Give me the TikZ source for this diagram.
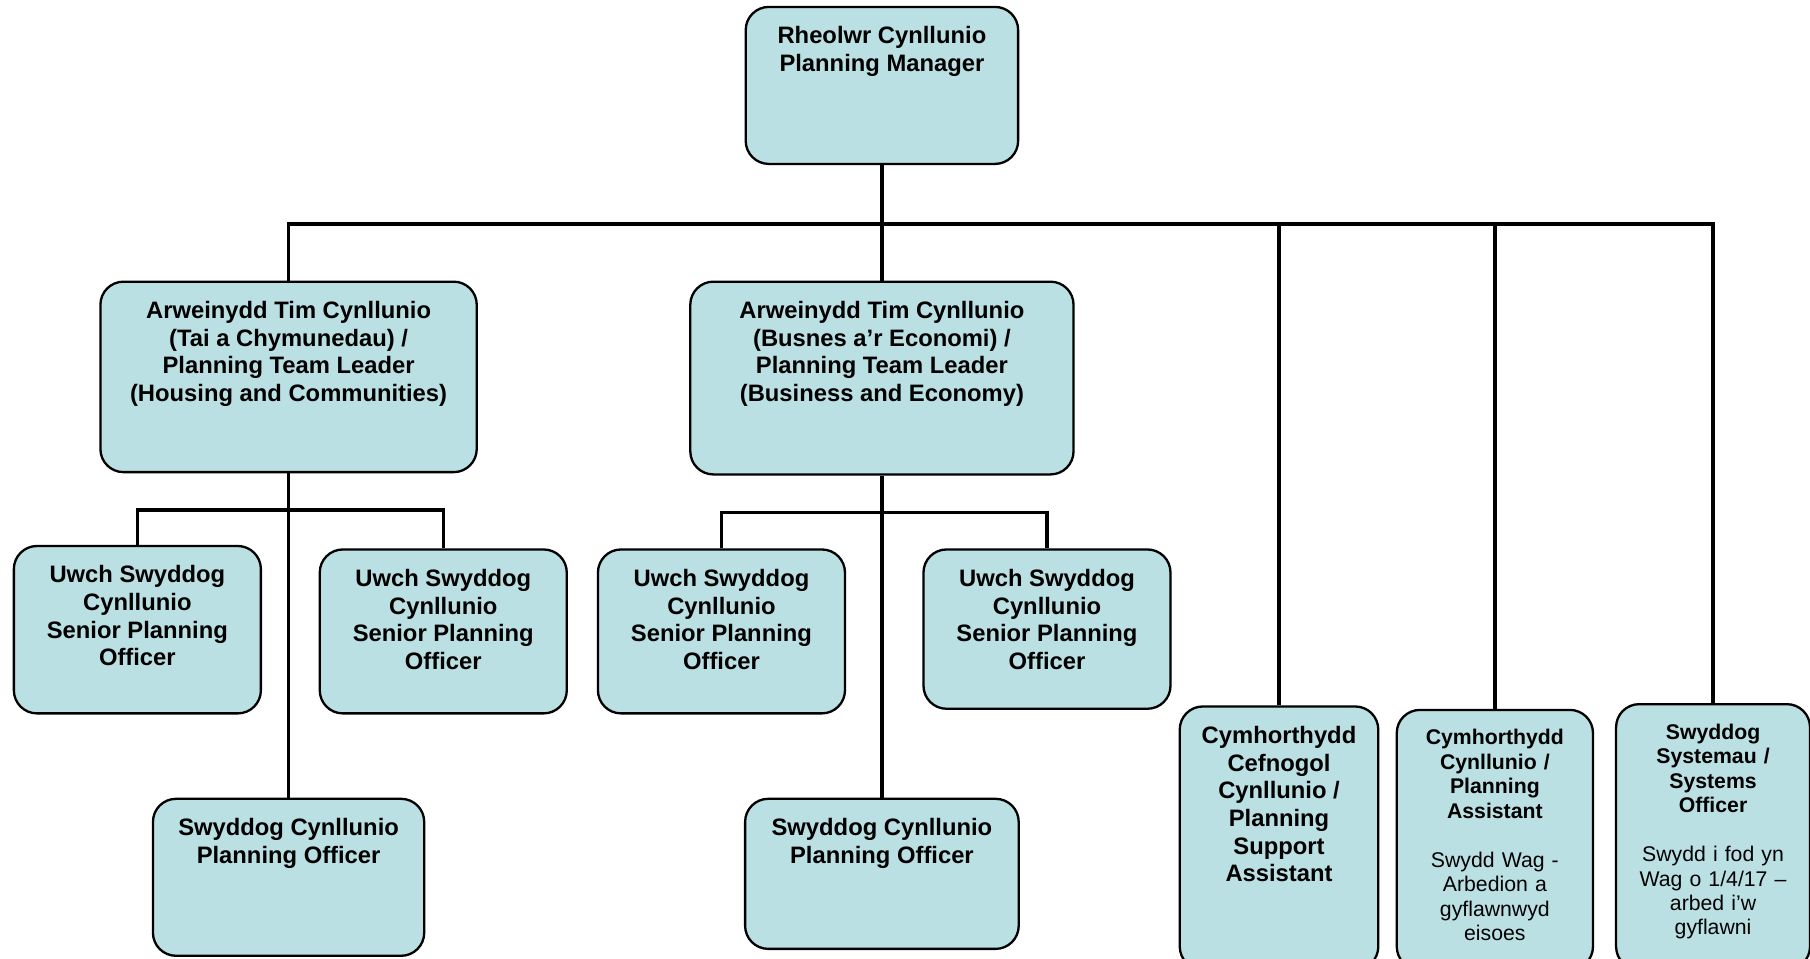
\documentclass[tikz,border=0pt]{standalone}
\usepackage{fontspec}
\setmainfont{Liberation Sans}
\usetikzlibrary{positioning}

\definecolor{postfill}{RGB}{186,224,227}

\tikzset{
    post/.style={draw, line width=1pt, fill=postfill, rounded corners=10pt, inner sep=0pt},
    posttext/.style={anchor=north, yshift=-8.8pt, align=center, inner sep=0pt,
        font=\bfseries\fontsize{10.3}{12}\selectfont},
    smalltext/.style={posttext, text width=80pt, font=\bfseries\fontsize{9.2}{10.6}\selectfont},
    link/.style={line width=1.5pt}
}

\begin{document}
\begin{tikzpicture}[x=0.5pt, y=-0.5pt]
    \useasboundingbox (0,0) rectangle (1568,830);

    % manager
    \node[post, minimum width=118pt, minimum height=68pt,
        label={[posttext]north:Rheolwr Cynllunio\\Planning Manager}] (mgr) at (764,74) {};

    % team leaders
    \node[post, minimum width=163pt, minimum height=82.5pt,
        label={[posttext]north:Arweinydd Tim Cynllunio\\(Tai a Chymunedau) /\\Planning Team Leader\\(Housing and Communities)}] (tlh) at (250,326.5) {};
    \node[post, minimum width=166pt, minimum height=83.5pt,
        label={[posttext]north:Arweinydd Tim Cynllunio\\(Busnes a’r Economi) /\\Planning Team Leader\\(Business and Economy)}] (tlb) at (764,327.5) {};

    % senior planning officers
    \node[post, minimum width=107pt, minimum height=72.5pt,
        label={[posttext]north:Uwch Swyddog\\Cynllunio\\Senior Planning\\Officer}] (spo1) at (119,545.5) {};
    \node[post, minimum width=107pt, minimum height=71pt,
        label={[posttext]north:Uwch Swyddog\\Cynllunio\\Senior Planning\\Officer}] (spo2) at (384,547) {};
    \node[post, minimum width=107pt, minimum height=71pt,
        label={[posttext]north:Uwch Swyddog\\Cynllunio\\Senior Planning\\Officer}] (spo3) at (625,547) {};
    \node[post, minimum width=107pt, minimum height=69pt,
        label={[posttext]north:Uwch Swyddog\\Cynllunio\\Senior Planning\\Officer}] (spo4) at (907,545) {};

    % planning officers
    \node[post, minimum width=117.5pt, minimum height=68pt,
        label={[posttext]north:Swyddog Cynllunio\\Planning Officer}] (po1) at (250,760) {};
    \node[post, minimum width=118.5pt, minimum height=65pt,
        label={[posttext]north:Swyddog Cynllunio\\Planning Officer}] (po2) at (764,757) {};

    % support posts
    \node[post, minimum width=86pt, minimum height=114pt,
        label={[posttext]north:Cymhorthydd\\Cefnogol\\Cynllunio /\\Planning\\Support\\Assistant}] (psa) at (1108,726) {};
    \node[post, minimum width=85pt, minimum height=112.5pt,
        label={[smalltext]north:Cymhorthydd\\Cynllunio /\\Planning\\Assistant\\[10.6pt]\mdseries Swydd Wag -\\Arbedion a\\gyflawnwyd\\eisoes}] (pa) at (1295,727.5) {};
    \node[post, minimum width=84pt, minimum height=115pt,
        label={[smalltext]north:Swyddog\\Systemau /\\Systems\\Officer\\[10.6pt]\mdseries Swydd i fod yn\\Wag o 1/4/17 –\\arbed i'w\\gyflawni}] (so) at (1484,725) {};

    % connectors
    \coordinate (bus) at (764,194);
    \coordinate (hbus) at (250,442);
    \coordinate (bbus) at (764,444);

    \draw[link] (mgr.south) -- (tlb.north);
    \draw[link] (tlh.north) |- (so.north |- bus) -- (so.north);
    \draw[link] (psa.north) -- (psa.north |- bus);
    \draw[link] (pa.north) -- (pa.north |- bus);

    \draw[link] (tlh.south) -- (po1.north);
    \draw[link] (spo1.north) |- (spo2.north |- hbus) -- (spo2.north);

    \draw[link] (tlb.south) -- (po2.north);
    \draw[link] (spo3.north) |- (spo4.north |- bbus) -- (spo4.north);
\end{tikzpicture}
\end{document}
